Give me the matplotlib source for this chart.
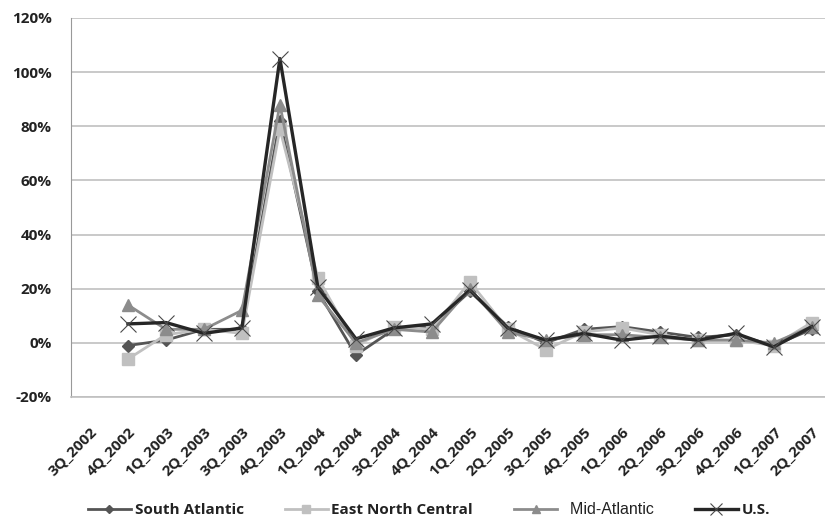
import numpy as np
import matplotlib
matplotlib.use('Agg')
import matplotlib.pyplot as plt
from matplotlib.ticker import PercentFormatter

quarters = ['3Q_2002', '4Q_2002', '1Q_2003', '2Q_2003', '3Q_2003', '4Q_2003',
            '1Q_2004', '2Q_2004', '3Q_2004', '4Q_2004', '1Q_2005', '2Q_2005',
            '3Q_2005', '4Q_2005', '1Q_2006', '2Q_2006', '3Q_2006', '4Q_2006',
            '1Q_2007', '2Q_2007']

# growth rates in percent, first quarter has no data
south_atlantic = [np.nan, -1, 1, 5, 5, 82, 19, -4.5, 5, 6, 19, 6, 0, 5, 6, 4, 2, 3, -1, 5]
east_north_central = [np.nan, -6, 3, 5, 3.5, 79, 24, -1, 6, 5, 22.5, 5, -2.5, 4, 5.5, 3, 1, 1, -1, 7.5]
mid_atlantic = [np.nan, 14, 5, 5, 12, 88, 17.5, 0, 5, 4, 20, 4, 1, 3, 3, 2, 1, 1, 0, 6]
us = [np.nan, 7, 7.5, 3.5, 5.5, 105, 20.5, 1.5, 5.5, 7, 19.5, 5.5, 1, 3.5, 1, 2.5, 1, 3.5, -1.5, 6]

series = [
    ('South Atlantic', south_atlantic, '#555555', 'D', 6),
    ('East North Central', east_north_central, '#c0c0c0', 's', 9),
    ('Mid-Atlantic', mid_atlantic, '#8c8c8c', '^', 9),
    ('U.S.', us, '#262626', 'x', 12),
]

plt.rcParams['font.family'] = ['Open Sans', 'DejaVu Sans']
plt.rcParams['axes.unicode_minus'] = False

fig = plt.figure(figsize=(8.25, 5.18), dpi=100)
ax = fig.add_axes([0.086, 0.2336, 0.921, 0.7317])

x = np.arange(len(quarters))
for name, vals, color, marker, ms in series:
    if marker == 'x':
        ax.plot(x, vals, color=color, marker=marker, markersize=ms, linewidth=2.4,
                markeredgewidth=0.8, markeredgecolor='#4a4a4a', label=name)
    else:
        ax.plot(x, vals, color=color, marker=marker, markersize=ms, linewidth=2.0,
                label=name)

ax.set_xlim(-0.5, len(quarters) - 0.5)
ax.set_ylim(-20, 120)
ax.set_yticks(np.arange(-20, 121, 20))
ax.yaxis.set_major_formatter(PercentFormatter(decimals=0))
ax.grid(axis='y', color='#c0c0c0', linewidth=1.2)
ax.set_axisbelow(True)
for side in ['top', 'right']:
    ax.spines[side].set_visible(False)
ax.spines['left'].set_color('#999999')
ax.spines['bottom'].set_color('#c0c0c0')
ax.spines['bottom'].set_linewidth(1.2)
ax.tick_params(length=0)
ax.tick_params(axis='y', labelsize=11, colors='#222222', pad=14)
ax.set_xticks(x)
ax.set_xticklabels(quarters, rotation=45, ha='right', rotation_mode='anchor',
                   fontsize=11, fontweight='bold', color='#222222')
ax.tick_params(axis='x', pad=20)
for lbl in ax.get_yticklabels():
    lbl.set_fontweight('bold')

leg = fig.legend(loc='lower center', bbox_to_anchor=(0.52, -0.025), ncol=4,
                 frameon=False, fontsize=11, columnspacing=2.7, handlelength=2.8,
                 handletextpad=0.25, markerscale=0.7)
for txt in leg.get_texts():
    txt.set_color('#222222')
    if txt.get_text() == 'Mid-Atlantic':
        txt.set_text('  Mid-Atlantic')
        txt.set_fontfamily('Liberation Sans')
        txt.set_fontsize(11.5)
    else:
        txt.set_fontweight('bold')

fig.savefig('out.png', dpi=100)
